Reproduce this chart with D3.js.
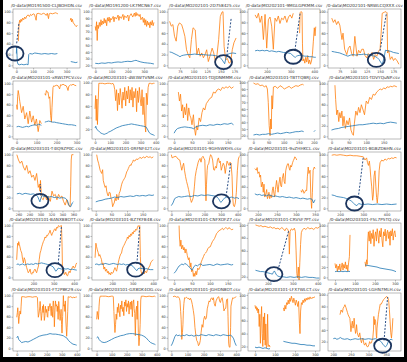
<!DOCTYPE html>
<html>
<head>
<meta charset="utf-8">
<script src="https://cdn.jsdelivr.net/npm/d3@7"></script>
<style>body{margin:0;background:#fff}</style>
</head>
<body>
<div id="chart"></div>
<script>
// panel titles, left to right, top to bottom
var titles = [
  "/0-data\\MO191500-CLJBOHDN.csv", "/0-data\\MO191200-LK7MCN67.csv", "/0-data\\MO202101-2D758425.csv", "/0-data\\MO202101-9MGLGPKMM.csv", "/0-data\\MO202101-NRWLCQXXX.csv",
  "/0-data\\MO203101-xRWLTPCV.csv", "/0-data\\MO203101-dW3WTVNM.csv", "/0-data\\MO203101-TDJDNMMM.csv", "/0-data\\MO203101-TBTTQBRJ.csv", "/0-data\\MO203101-TDVYQuNP.csv",
  "/0-data\\MO203101-T4IQ9ZP0C.csv", "/0-data\\MO203101-0RFNF42T.csv", "/0-data\\MO203101-9GH5WKHS.csv", "/0-data\\MO203101-9vZHHKCL.csv", "/0-data\\MO203101-BGBZD6HN.csv",
  "/0-data\\MO203101-BANXB8OTT.csv", "/0-data\\MO203101-BZ7KFB48.csv", "/0-data\\MO203101-CNFXOFZ7.csv", "/0-data\\MO203101-CRVSF7PT.csv", "/0-data\\MO203101-F5L7P5TQ.csv",
  "/0-data\\MO203101-FT2P8K29.csv", "/0-data\\MO203101-GX8DK4OG.csv", "/0-data\\MO203101-JGHDN8OT.csv", "/0-data\\MO203101-LFX7WLCT.csv", "/0-data\\MO203101-LGHN7MLH.csv"
];

var xDomains = [
  [-20, 380], [-20, 385], [53, 187], [120, 424], [53, 189],
  [-18, 317], [-20, 415], [-17, 187], [-18, 220], [-10, 200],
  [250, 372], [-12, 199], [-20, 420], [174, 363], [148, 462],
  [100, 429], [101, 423], [-17, 187], [120, 409], [-35, 330],
  [-25, 422], [-31, 409], [-20, 430], [-35, 325], [185, 392]
];

var xTicks = [
  [0, 100, 200, 300], [0, 100, 200, 300], [75, 100, 125, 150, 175], [200, 300, 400], [75, 100, 125, 150, 175],
  [0, 100, 200, 300], [0, 100, 200, 300, 400], [0, 50, 100, 150], [0, 50, 100, 150, 200], [0, 50, 100, 150],
  [260, 280, 300, 320, 340, 360], [0, 50, 100, 150], [0, 100, 200, 300, 400], [200, 250, 300, 350], [200, 300, 400],
  [200, 300, 400], [200, 300, 400], [0, 50, 100, 150], [200, 300, 400], [0, 100, 200, 300],
  [0, 100, 200, 300, 400], [0, 100, 200, 300, 400], [0, 100, 200, 300, 400], [0, 100, 200, 300], [200, 250, 300, 350]
];

var yDomains = [
  [-5, 105], [16, 104], [-5, 105], [-5, 105], [-5, 105],
  [-5, 105], [3, 103], [-5, 105], [15, 102], [-5, 105],
  [-5, 105], [-5, 105], [-5, 105], [-5, 105], [-5, 105],
  [-5, 105], [-5, 105], [-5, 105], [15, 103], [-5, 105],
  [-5, 105], [-5, 105], [-5, 105], [13, 103], [4, 103]
];

var by20 = [0, 20, 40, 60, 80, 100];
var from20 = [20, 40, 60, 80, 100];
var by10 = [20, 30, 40, 50, 60, 70, 80, 90, 100];
var yTicks = [
  by20, by10, by20, by20, by20,
  by20, from20, by20, by10, by20,
  by20, by20, by20, by20, by20,
  by20, by20, by20, from20, by20,
  by20, by20, by20, from20, from20
];

// orange series per panel, [x, value]; a null value breaks the line
var orange = [
  [[12,45],[14,62],[16,77],[20,84],[24,80],[28,86],[32,82],[38,88],[44,85],[50,90],[56,87],[62,92],[71,94],[78,91],[85,95],[92,93],[100,96],[108,95],[114,89],[118,84],[122,96],[130,97],[140,96],[150,95],[161,97],[170,96],[178,93],[185,97],[192,87],[196,96],[205,97],[215,96],[225,97],[235,98],[241,97],[248,96],[250,null],[322,84],[326,88],[330,81],[334,86],[340,79],[346,77],[352,74],[358,72],[364,75]],
  [[0,78],[4,72],[8,85],[12,57],[16,80],[20,75],[25,84],[30,78],[35,88],[40,80],[45,86],[50,82],[55,90],[60,83],[65,88],[70,79],[75,91],[80,86],[85,92],[90,84],[95,90],[100,88],[110,93],[115,85],[120,92],[130,89],[140,95],[145,87],[150,93],[160,90],[170,96],[175,88],[180,94],[190,91],[200,95],[205,86],[210,93],[220,97],[230,92],[240,98],[245,93],[250,99],[255,94],[260,97],[270,93],[275,96],[280,88],[290,92],[295,84],[300,90],[305,80],[310,88],[315,78],[320,86],[325,80],[330,84],[335,76],[340,85],[345,80],[350,87],[355,79],[360,84]],
  [[56,82],[59,73],[62,76],[65,54],[68,45],[71,73],[74,79],[78,76],[81,66],[84,54],[87,29],[90,20],[93,14],[96,48],[99,70],[103,66],[106,20],[109,32],[112,17],[115,23],[118,14],[121,20],[124,29],[127,7],[130,17],[134,32],[137,23],[140,7],[143,20],[146,48],[149,91],[152,99],[154,100],[156,35],[159,10],[162,13],[165,4],[168,6],[171,29],[174,42],[178,51]],
  [[150,94],[157,88],[164,97],[171,80],[178,92],[185,48],[192,95],[199,32],[206,85],[213,90],[220,73],[227,30],[234,88],[241,82],[248,92],[255,78],[262,88],[269,85],[276,92],[284,80],[291,90],[298,94],[305,88],[311,97],[313,null],[338,60],[340,98],[343,100],[348,99],[350,40],[352,8],[356,12],[360,4],[364,15],[368,6],[372,18],[376,3],[380,10],[384,2],[388,8],[392,20],[396,45],[400,70],[403,55],[406,72]],
  [[60,88],[63,80],[66,85],[69,76],[72,82],[75,75],[79,48],[81,60],[84,30],[88,20],[91,32],[94,36],[97,22],[100,17],[103,54],[107,17],[110,28],[113,23],[116,30],[119,30],[122,18],[125,14],[128,22],[132,17],[135,24],[138,11],[141,20],[144,17],[147,26],[150,30],[152,60],[154,97],[158,99],[161,100],[163,98],[164,23],[166,28],[169,11],[172,16],[175,9],[178,13],[182,8],[185,2]],

  [[0,60],[3,51],[5,75],[8,87],[12,78],[16,66],[25,45],[33,57],[41,33],[50,45],[58,24],[66,48],[75,27],[83,39],[91,21],[99,33],[108,9],[116,30],[124,24],[126,null],[141,81],[145,78],[149,87],[153,84],[157,84],[162,72],[166,75],[170,40],[174,27],[177,55],[179,69],[182,93],[186,96],[190,95],[198,97],[207,96],[211,93],[215,90],[220,98],[226,97],[232,99],[240,97],[248,96],[253,92],[257,87],[261,95],[265,96],[270,98],[276,97],[282,99],[290,97],[298,96]],
  [[0,55],[4,78],[8,35],[12,72],[16,28],[20,60],[25,99],[35,99],[50,99],[65,98],[80,99],[95,99],[110,98],[118,99],[124,96],[130,88],[136,69],[142,88],[148,52],[154,82],[160,62],[166,90],[172,75],[178,56],[184,84],[190,70],[196,92],[202,60],[208,86],[214,72],[220,94],[226,65],[232,88],[238,70],[244,92],[250,58],[256,85],[262,74],[268,90],[274,50],[280,86],[286,66],[292,92],[298,72],[304,60],[310,88],[316,45],[322,75],[328,30],[334,15],[338,82],[344,62],[350,92],[356,99],[365,99],[375,98],[385,99],[392,99]],
  [[12,84],[15,67],[18,80],[21,48],[24,60],[26,35],[29,55],[32,41],[35,62],[38,30],[41,54],[44,40],[47,35],[50,22],[54,41],[57,15],[60,2],[63,20],[66,12],[70,35],[74,28],[78,45],[82,54],[86,50],[90,62],[95,67],[100,72],[105,74],[110,84],[115,82],[120,88],[125,90],[130,87],[135,93],[140,91],[145,94],[150,92],[155,95],[160,91],[166,94]],
  [[0,99],[8,97],[15,98],[22,95],[30,96],[36,93],[42,95],[46,90],[49,70],[52,35],[55,20],[57,45],[59,30],[61,80],[63,60],[66,93],[72,94],[80,91],[88,95],[95,93],[102,90],[110,92],[118,94],[125,91],[132,93],[140,95],[148,94],[155,96],[162,97],[166,96]],
  [[10,97],[12,70],[15,41],[18,50],[21,28],[24,45],[27,35],[30,48],[33,20],[36,38],[40,15],[44,30],[48,22],[52,35],[56,12],[60,5],[63,2],[66,25],[70,48],[74,40],[78,55],[82,45],[86,60],[90,52],[95,41],[100,67],[105,62],[110,74],[115,70],[120,80],[125,78],[130,84],[135,87],[140,90],[145,88],[150,92],[155,90],[160,94],[165,93],[170,95],[175,94],[180,96],[188,94]],

  [[257,100],[260,90],[263,84],[266,88],[269,77],[272,71],[275,80],[278,65],[281,70],[284,58],[287,62],[290,52],[293,65],[296,39],[298,45],[299,32],[300,52],[302,19],[305,16],[308,26],[311,16],[314,23],[318,13],[321,32],[324,23],[327,26],[330,16],[333,26],[336,20],[339,23],[342,13],[345,6],[348,16],[351,6],[354,3],[355,40],[356,90],[357,100],[360,100]],
  [[3,100],[6,90],[9,84],[14,71],[19,65],[22,72],[24,52],[27,45],[30,39],[33,42],[35,32],[38,25],[40,23],[43,30],[46,29],[49,18],[51,16],[54,3],[57,8],[59,10],[62,19],[65,14],[67,26],[70,20],[72,16],[75,28],[78,32],[81,40],[83,45],[86,50],[88,52],[91,55],[94,58],[97,64],[99,68],[102,71],[104,74],[107,78],[110,81],[113,80],[115,84],[118,86],[120,90],[125,88],[130,92],[135,91],[141,95],[147,93],[152,96],[157,94],[163,97],[168,95],[174,96],[179,94],[184,96]],
  [[0,100],[5,94],[16,96],[28,97],[40,92],[51,90],[57,80],[63,71],[68,78],[74,84],[80,70],[86,59],[92,50],[98,43],[104,35],[109,27],[115,18],[121,11],[127,15],[133,21],[139,40],[144,59],[150,70],[156,78],[162,86],[167,90],[173,93],[179,86],[185,95],[191,97],[197,93],[202,90],[206,40],[209,14],[212,45],[216,71],[219,80],[226,84],[232,95],[237,100],[243,97],[249,90],[255,72],[260,71],[266,78],[272,75],[278,90],[284,94],[290,85],[295,88],[301,71],[307,78],[313,84],[319,80],[325,65],[330,76],[336,88],[342,84],[348,80],[354,86],[360,84],[366,60],[370,20],[374,6],[380,3],[386,10],[392,30],[398,70],[404,92],[410,97]],
  [[192,74],[196,71],[198,76],[200,65],[203,68],[205,58],[207,62],[209,40],[212,49],[214,30],[216,45],[218,21],[221,28],[223,35],[225,18],[227,22],[229,30],[231,18],[234,25],[236,20],[238,34],[240,40],[242,28],[244,21],[246,35],[249,52],[251,40],[253,30],[255,45],[258,58],[260,42],[262,40],[264,55],[267,65],[269,50],[271,46],[273,70],[275,77],[278,83],[280,83],[282,75],[284,71],[286,80],[288,77],[291,85],[293,89],[295,92],[297,96],[300,93],[302,90],[304,null],[313,33],[315,30],[317,35],[319,33],[321,28],[323,30],[326,34],[328,33],[330,60],[332,77],[334,65],[337,71],[339,20],[341,0],[343,30],[345,71],[348,77],[350,74]],
  [[164,99],[175,100],[186,99],[200,100],[215,99],[229,98],[243,99],[257,98],[272,98],[286,97],[300,96],[307,90],[314,94],[318,85],[322,80],[326,88],[329,75],[332,58],[336,40],[340,15],[343,25],[346,60],[350,70],[354,40],[357,20],[360,10],[364,30],[368,70],[372,85],[379,90],[386,88],[393,92],[400,90],[407,93],[414,92],[421,94],[429,93],[436,95],[443,94]],

  [[118,34],[121,55],[123,66],[126,62],[128,69],[131,64],[134,59],[138,52],[143,47],[147,35],[151,28],[155,38],[159,34],[163,25],[167,19],[171,14],[175,9],[180,12],[184,16],[188,8],[192,6],[196,10],[200,9],[204,14],[208,16],[212,12],[216,9],[220,15],[225,22],[229,35],[233,47],[237,52],[241,59],[245,64],[249,69],[253,72],[257,78],[261,76],[265,81],[269,80],[274,84],[278,86],[282,91],[286,85],[290,81],[294,86],[298,88],[302,92],[306,94],[310,90],[315,97],[319,95],[323,100],[330,98],[336,100],[338,100],[341,60],[343,12],[347,19],[351,6],[355,6],[359,10],[364,4],[368,3],[372,8],[376,12],[380,9],[384,14],[388,16],[392,20],[396,22],[400,18],[405,19],[409,25],[413,28]],
  [[116,38],[120,66],[123,60],[127,53],[131,48],[135,41],[139,44],[143,39],[147,35],[151,25],[155,28],[159,16],[163,20],[167,12],[172,16],[176,9],[180,12],[184,6],[188,9],[192,5],[196,10],[200,8],[204,9],[208,14],[213,19],[217,15],[221,12],[225,20],[229,28],[233,35],[237,41],[241,45],[245,47],[249,55],[253,59],[257,62],[262,66],[266,70],[270,72],[274,78],[278,75],[282,81],[286,78],[290,84],[294,81],[298,87],[302,84],[306,90],[310,88],[314,93],[319,91],[323,97],[327,100],[331,98],[334,100],[337,40],[340,12],[345,6],[351,10],[356,7],[361,12],[367,9],[371,14],[375,16],[379,20],[383,22],[387,28],[392,31],[396,33],[400,34]],
  [[14,100],[15,78],[17,60],[19,72],[21,55],[24,62],[26,53],[28,58],[31,47],[33,55],[35,50],[37,42],[40,34],[42,38],[45,20],[47,28],[49,11],[52,15],[54,2],[56,8],[58,2],[61,12],[63,5],[66,18],[69,15],[73,21],[76,30],[79,35],[82,40],[85,45],[88,47],[91,50],[94,55],[97,58],[101,59],[104,64],[107,69],[110,72],[113,75],[116,80],[119,85],[122,87],[125,90],[128,91],[132,93],[135,95],[138,92],[141,94],[144,96],[147,95],[150,93],[153,96],[156,95],[160,92],[165,93]],
  [[150,100],[158,99],[165,98],[172,99],[180,97],[188,98],[195,97],[202,96],[210,97],[218,95],[225,96],[232,94],[240,95],[248,93],[255,96],[262,94],[268,91],[274,95],[280,93],[284,88],[286,55],[289,90],[294,94],[300,92],[306,95],[310,90],[313,60],[316,25],[319,18],[322,35],[325,15],[328,42],[331,70],[334,88],[338,92],[345,95],[352,93],[360,96],[368,94],[376,95],[384,93],[392,96],[400,95],[407,97]],
  [[0,27],[4,18],[8,25],[12,11],[16,22],[20,15],[24,26],[28,12],[32,20],[36,28],[40,14],[44,25],[48,18],[52,30],[56,16],[60,24],[64,12],[68,28],[72,40],[75,82],[76,null],[150,30],[154,21],[158,34],[161,25],[164,72],[167,88],[171,70],[175,90],[179,65],[183,85],[187,75],[191,92],[195,60],[199,80],[203,88],[207,70],[211,94],[215,82],[219,66],[223,90],[227,78],[231,95],[235,72],[239,59],[243,88],[247,80],[251,93],[255,70],[259,85],[263,91],[267,75],[271,88],[275,62],[279,90],[283,80],[287,94],[291,72],[295,85],[299,90],[303,78]],

  [[0,59],[4,68],[7,77],[10,62],[13,47],[17,60],[22,71],[26,65],[29,80],[33,98],[45,98],[60,97],[75,98],[90,98],[105,97],[120,98],[133,98],[138,96],[141,75],[144,59],[148,65],[151,71],[154,80],[156,89],[160,70],[164,53],[167,62],[170,72],[173,80],[176,68],[178,83],[181,72],[184,53],[188,62],[191,80],[196,68],[200,74],[204,60],[207,59],[210,80],[213,71],[217,78],[222,85],[226,75],[230,62],[233,80],[237,70],[240,59],[242,85],[244,90],[248,78],[251,41],[254,65],[258,90],[262,80],[267,83],[270,70],[273,80],[276,55],[280,89],[284,75],[289,53],[292,60],[296,74],[299,45],[302,29],[306,60],[311,100],[314,80],[318,83],[321,70],[324,90],[328,50],[333,23],[336,40],[340,70],[343,98],[350,97],[360,98],[370,96],[380,97],[389,96],[395,98],[400,97]],
  [[0,55],[4,70],[8,62],[12,55],[16,80],[20,95],[24,99],[40,99],[60,99],[80,98],[100,99],[108,99],[111,98],[115,70],[118,50],[122,30],[126,45],[130,65],[134,55],[138,78],[142,68],[146,85],[150,72],[155,60],[159,82],[163,75],[168,90],[172,70],[177,78],[181,62],[186,88],[190,80],[195,92],[199,70],[203,85],[208,78],[212,90],[216,65],[220,82],[225,88],[229,74],[234,90],[238,60],[242,84],[247,92],[250,75],[254,66],[258,24],[262,70],[266,80],[270,55],[274,90],[278,30],[282,5],[286,20],[290,45],[294,92],[298,99],[310,99],[330,98],[350,99],[370,98],[385,99],[392,98]],
  [[11,98],[22,99],[33,97],[43,98],[50,95],[54,90],[58,70],[61,55],[65,17],[69,30],[72,45],[75,72],[78,85],[82,96],[87,95],[93,97],[98,96],[103,94],[108,95],[113,92],[119,95],[125,90],[130,83],[136,72],[141,61],[146,40],[152,24],[157,15],[163,12],[168,5],[174,8],[179,15],[184,30],[190,45],[195,40],[200,55],[206,61],[211,55],[217,58],[222,75],[228,83],[233,90],[238,88],[244,94],[250,96],[255,92],[260,96],[265,85],[271,80],[276,90],[282,94],[287,97],[293,98],[298,90],[303,87],[309,94],[314,96],[320,85],[325,71],[330,75],[336,76],[341,92],[347,94],[350,60],[354,10],[357,3],[362,2],[366,40],[368,80],[374,90],[379,96],[385,95],[390,96],[396,97],[401,98]],
  [[0,84],[3,79],[6,82],[9,76],[12,80],[15,72],[18,78],[21,51],[24,70],[27,25],[30,60],[33,82],[36,40],[39,20],[42,66],[45,30],[48,72],[51,22],[54,55],[57,18],[60,20],[63,70],[66,24],[69,20],[72,22],[75,19],[76,null],[142,80],[146,75],[150,84],[154,78],[158,88],[162,85],[166,92],[170,86],[174,95],[178,90],[182,98],[186,93],[190,88],[194,95],[198,90],[202,84],[206,92],[210,88],[214,82],[218,90],[222,56],[225,40],[228,75],[232,88],[236,85],[240,92],[244,88],[248,94],[252,90],[256,95],[260,92],[265,96],[270,93],[275,97],[280,94],[285,96],[290,95],[296,97],[300,96]],
  [[219,66],[222,74],[226,70],[228,77],[231,80],[233,83],[236,78],[238,74],[240,70],[242,66],[245,62],[247,60],[250,37],[252,48],[254,55],[256,43],[258,50],[259,60],[261,45],[263,34],[265,40],[266,49],[268,35],[270,31],[272,28],[275,35],[278,22],[280,18],[282,24],[284,26],[287,16],[289,14],[292,18],[295,12],[298,11],[301,15],[303,20],[306,17],[308,18],[310,22],[312,26],[314,40],[315,63],[317,49],[318,58],[320,55],[322,30],[323,26],[324,43],[326,55],[328,66],[331,77],[333,84],[336,84],[340,89],[343,92],[346,94],[349,96],[352,97],[355,95],[357,90],[359,75],[361,55],[363,35],[365,26],[367,40],[369,60]]
];

// blue series per panel
var blue = [
  [[0,22],[2,35],[4,18],[6,6],[10,2],[20,1],[30,2],[45,1],[60,2],[70,1],[74,20],[80,22],[95,21],[110,23],[130,22],[150,21],[170,22],[190,21],[210,22],[230,21],[245,22],[250,null],[325,7],[340,6],[355,5],[365,6]],
  [[0,23],[20,22.5],[40,23.5],[60,23],[80,24],[100,23.5],[120,24.5],[140,25],[160,24.5],[180,25.5],[200,26],[220,25.5],[240,27],[250,27.5],[260,26.5],[280,25],[300,24],[320,23.5],[340,23],[360,22]],
  [[56,25],[60,24],[64,22],[68,20],[72,18],[75,16],[78,18],[82,19],[88,20],[95,20],[102,21],[110,20],[118,20],[126,19],[134,19],[140,18],[145,17],[149,14],[152,11],[155,6],[157,3],[159,12],[162,20],[166,22],[172,23],[178,22]],
  [[150,27],[160,28],[170,27],[180,28],[190,27],[200,28],[210,26],[220,27],[230,26],[240,25],[250,26],[260,25],[270,24],[280,24],[290,23],[300,22],[305,20],[310,18],[315,16],[320,15],[325,17],[330,18],[340,19],[350,18],[360,17],[370,17],[380,16],[390,16],[400,15],[406,15]],
  [[60,26],[65,25],[70,24],[75,23],[80,21],[85,19],[90,17],[95,19],[100,20],[105,19],[110,20],[115,20],[120,21],[125,20],[130,19],[135,18],[140,17],[145,14],[148,11],[151,6],[154,2],[157,12],[160,28],[165,27],[170,26],[175,24],[180,23],[185,22]],

  [[0,18],[10,19],[20,18],[30,17],[40,18],[50,19],[60,18],[70,20],[80,21],[90,22],[100,21],[110,23],[118,22],[124,21],[126,null],[141,27],[150,28],[160,29],[170,28],[180,27],[190,27],[200,26],[215,25],[230,24],[245,23],[260,22],[275,22],[290,21],[298,20]],
  [[0,22],[5,25],[10,20],[20,18],[30,15],[40,13],[50,12],[60,11],[70,12],[80,13],[90,15],[100,16],[120,19],[140,22],[160,24],[180,26],[200,27],[220,28],[240,29],[260,28],[280,27],[300,26],[320,25],[335,24],[345,20],[355,15],[365,12],[375,11],[385,10],[392,9]],
  [[0,6],[5,12],[10,15],[20,17],[30,18],[40,17],[50,16],[55,14],[60,18],[70,20],[80,21],[90,20],[100,22],[110,21],[120,23],[130,22],[140,24],[150,23],[160,25],[166,22]],
  [[0,21],[10,22],[20,21],[30,22],[40,22],[50,23],[60,22],[70,23],[80,24],[90,23],[100,24],[110,25],[120,24],[130,25],[140,26],[150,26],[160,27],[166,26],[170,null],[200,26],[204,28]],
  [[0,12],[10,14],[20,15],[30,17],[40,18],[50,19],[60,20],[70,21],[80,22],[90,22],[100,23],[110,24],[120,25],[130,24],[140,25],[150,24],[160,26],[170,27],[180,26],[188,25]],

  [[257,27],[262,28],[267,26],[272,28],[277,27],[282,26],[287,27],[292,25],[295,22],[297,17],[299,12],[301,20],[303,24],[306,22],[310,23],[315,21],[320,22],[325,20],[330,21],[335,19],[340,20],[345,19],[349,15],[352,5],[355,3],[358,10],[360,12]],
  [[0,12],[10,14],[20,15],[30,17],[40,18],[50,19],[60,21],[70,20],[80,22],[90,21],[100,22],[110,23],[120,22],[130,24],[140,23],[150,24],[160,23],[170,25],[180,24],[186,25]],
  [[0,5],[10,10],[20,18],[30,20],[45,22],[60,21],[80,22],[100,23],[120,22],[140,24],[160,23],[180,25],[200,24],[220,25],[240,24],[260,23],[275,21],[285,18],[292,14],[298,11],[305,13],[312,16],[320,19],[335,21],[350,20],[365,21],[380,19],[395,20],[408,18]],
  [[192,27],[198,25],[204,26],[210,24],[216,25],[222,23],[228,25],[234,24],[240,22],[246,23],[252,22],[258,21],[264,22],[270,21],[276,20],[282,21],[288,20],[294,19],[300,20],[306,19],[312,18],[318,19],[324,18],[330,17],[336,18],[342,17],[346,10],[350,16]],
  [[164,25],[175,24],[186,22],[200,21],[215,20],[229,18],[243,15],[250,13],[257,10],[264,7],[272,5],[280,9],[286,8],[300,7],[320,8],[340,7],[360,8],[380,7],[400,8],[420,7],[443,8]],

  [[118,25],[125,26],[132,24],[140,25],[148,26],[156,24],[164,25],[172,26],[180,25],[190,26],[200,25],[210,27],[220,26],[230,27],[240,28],[250,27],[260,26],[270,25],[280,24],[290,22],[298,20],[304,16],[310,12],[316,14],[322,18],[330,17],[340,16],[350,17],[360,16],[370,17],[380,15],[390,16],[400,15],[413,14]],
  [[116,25],[125,26],[135,24],[145,26],[155,25],[165,27],[175,26],[185,25],[195,26],[205,27],[215,26],[225,25],[235,26],[245,25],[255,26],[265,24],[275,25],[285,24],[295,23],[302,21],[308,18],[314,15],[320,13],[326,17],[335,18],[345,17],[355,16],[365,17],[375,16],[385,15],[400,15]],
  [[0,8],[5,12],[10,18],[14,22],[18,24],[22,26],[26,24],[30,27],[35,25],[40,22],[45,18],[50,14],[55,20],[60,24],[65,22],[70,25],[75,26],[80,23],[90,24],[100,25],[110,23],[120,26],[130,24],[140,25],[150,26],[160,24],[165,25]],
  [[150,30],[160,29],[170,28],[180,28],[190,27],[200,26],[210,25],[218,24],[222,27],[226,29],[230,26],[234,23],[240,21],[248,20],[260,20],[275,19],[290,20],[305,19],[320,20],[335,19],[350,20],[365,19],[380,19],[395,18],[407,18]],
  [[0,11],[10,12],[20,11],[30,12],[40,11],[50,12],[60,11],[70,12],[75,11],[76,null],[150,24],[165,23],[180,22],[195,21],[210,20],[225,18],[240,17],[255,16],[270,15],[285,14],[300,12],[305,11]],

  [[0,20],[7,23],[13,17],[22,14],[33,11],[45,12],[60,13],[75,12],[90,14],[110,17],[130,20],[150,23],[175,25],[200,26],[222,28],[240,27],[260,27],[280,26],[296,25],[310,24],[320,22],[333,20],[345,15],[360,11],[375,8],[390,7],[400,6]],
  [[0,20],[8,22],[16,17],[25,14],[35,12],[50,11],[65,12],[80,14],[100,17],[120,20],[140,22],[160,24],[180,25],[200,27],[220,28],[240,28],[260,27],[280,26],[300,25],[315,23],[330,20],[345,15],[360,11],[375,9],[385,8],[392,7]],
  [[0,5],[8,10],[15,16],[22,22],[30,26],[40,24],[50,25],[60,23],[70,25],[80,24],[95,26],[110,24],[125,25],[140,23],[155,25],[170,24],[185,26],[200,25],[215,24],[230,26],[245,25],[260,24],[275,26],[290,25],[305,24],[320,26],[335,25],[350,24],[365,25],[375,23],[385,18],[392,11],[401,5]],
  [[0,19],[10,18],[20,19],[30,18],[40,17],[50,18],[60,17],[70,16],[75,17],[76,null],[142,28],[155,27],[170,26],[185,25],[200,25],[215,24],[230,23],[245,23],[260,22],[275,22],[290,21],[300,21]],
  [[200,25],[205,26],[210,24],[215,25],[220,27],[225,25],[232,24],[240,25],[248,23],[255,24],[262,25],[270,24],[280,25],[290,24],[300,25],[310,24],[320,25],[328,23],[333,21],[337,19],[340,16],[344,13],[348,11],[352,14],[356,20],[360,23],[364,24],[368,23]]
];

// highlight rings: [panel, x, value]
var rings = [
  [0, -8, 22], [2, 155, 6], [3, 311, 16], [4, 143, 10],
  [10, 299, 14], [12, 302, 13], [14, 262, 9],
  [15, 306, 14], [16, 314, 15], [18, 224, 24], [24, 340, 13]
];

// dashed leader lines: [panel, x1, value1, x2, value2]
var leaders = [
  [0, 2, 41, 16, 80], [2, 161, 18, 169, 88], [3, 318, 28, 340, 97], [4, 150, 27, 162, 98],
  [10, 300, 24, 300, 45], [12, 330, 22, 358, 84], [14, 278, 19, 300, 96],
  [15, 322, 26, 338, 100], [16, 320, 26, 334, 100], [18, 240, 30, 284, 92], [24, 344, 22, 354, 96]
];

var W = 407, H = 362;
var colX = [13, 92, 168, 248, 328], colW = [67, 66, 73, 72, 73];
var rowY = [9, 81, 152, 223, 293], rowH = [59, 58, 59, 57, 58];

var svg = d3.select("#chart").append("svg")
  .attr("width", W)
  .attr("height", H)
  .style("font-family", "'DejaVu Sans', sans-serif");

svg.append("rect").attr("width", W).attr("height", H).attr("fill", "#fff");

var scales = [];

titles.forEach(function(title, i) {
  var c = i % 5, r = Math.floor(i / 5);
  var x0 = colX[c], y0 = rowY[r], w = colW[c], h = rowH[r];
  var x = d3.scaleLinear().domain(xDomains[i]).range([x0, x0 + w]);
  var y = d3.scaleLinear().domain(yDomains[i]).range([y0 + h, y0]);
  scales.push({x: x, y: y});

  var g = svg.append("g");

  g.append("clipPath").attr("id", "clip" + i)
    .append("rect").attr("x", x0).attr("y", y0).attr("width", w).attr("height", h);

  // axes
  var xa = g.append("g")
    .attr("transform", "translate(0," + (y0 + h) + ")")
    .call(d3.axisBottom(x).tickValues(xTicks[i]).tickSize(1.5).tickPadding(0.8));
  var ya = g.append("g")
    .attr("transform", "translate(" + x0 + ",0)")
    .call(d3.axisLeft(y).tickValues(yTicks[i]).tickSize(1.5).tickPadding(0.8));
  [xa, ya].forEach(function(a) {
    a.select(".domain").remove();
    a.selectAll("line").attr("stroke", "#555").attr("stroke-width", 0.4);
    a.selectAll("text").attr("font-size", 3.4).attr("fill", "#333").attr("font-family", "'DejaVu Sans', sans-serif");
  });

  var line = d3.line()
    .defined(function(d) { return d[1] != null; })
    .x(function(d) { return x(d[0]); })
    .y(function(d) { return y(d[1]); });

  var plot = g.append("g").attr("clip-path", "url(#clip" + i + ")");

  plot.append("path")
    .datum(orange[i])
    .attr("fill", "none")
    .attr("stroke", "#ff7f0e")
    .attr("stroke-width", 0.8)
    .attr("stroke-linejoin", "round")
    .attr("d", line);

  plot.append("path")
    .datum(blue[i])
    .attr("fill", "none")
    .attr("stroke", "#1f77b4")
    .attr("stroke-width", 0.8)
    .attr("stroke-linejoin", "round")
    .attr("d", line);

  // frame
  g.append("rect")
    .attr("x", x0).attr("y", y0)
    .attr("width", w).attr("height", h)
    .attr("fill", "none")
    .attr("stroke", "#777")
    .attr("stroke-width", 0.5);

  g.append("text")
    .attr("x", x0 + w / 2)
    .attr("y", y0 - 2)
    .attr("text-anchor", "middle")
    .attr("font-size", 4.2)
    .attr("fill", "#333")
    .text(title);
});

leaders.forEach(function(d) {
  var s = scales[d[0]];
  svg.append("line")
    .attr("x1", s.x(d[1])).attr("y1", s.y(d[2]))
    .attr("x2", s.x(d[3])).attr("y2", s.y(d[4]))
    .attr("stroke", "#2b4f86")
    .attr("stroke-width", 1)
    .attr("stroke-dasharray", "2,1.5");
});

rings.forEach(function(d) {
  var s = scales[d[0]];
  svg.append("ellipse")
    .attr("cx", s.x(d[1])).attr("cy", s.y(d[2]))
    .attr("rx", 8.5).attr("ry", 7)
    .attr("fill", "none")
    .attr("stroke", "#1c355e")
    .attr("stroke-width", 1.8);
});

// dark frame strips of the original photo
svg.append("rect").attr("x", 0).attr("y", 0).attr("width", 3).attr("height", H).attr("fill", "#000");
svg.append("rect").attr("x", 404).attr("y", 0).attr("width", 3).attr("height", H).attr("fill", "#000");
svg.append("rect").attr("x", 0).attr("y", 357).attr("width", W).attr("height", 5).attr("fill", "#000");
</script>
</body>
</html>
